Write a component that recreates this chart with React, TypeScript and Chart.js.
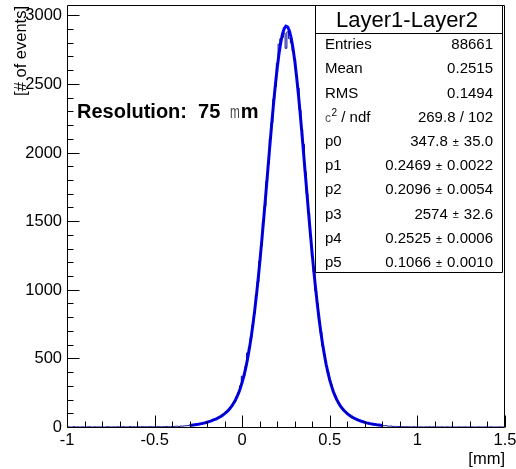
import React, { useEffect, useRef } from 'react';
import { Chart, registerables } from 'chart.js';

Chart.register(...registerables);

// ---------- data ----------
const histFirstCenter = -1.0;
const histBinWidth = 0.01;
const histCounts = [
  // -1.00 .. -0.61
  0, 1, 0, 0, 2, 0, 1, 0, 0, 1, 0, 0, 1, 2, 0, 0, 1, 0, 1, 0,
  1, 0, 0, 2, 1, 0, 1, 1, 0, 2, 1, 0, 2, 1, 1, 0, 3, 1, 2, 1,
  // -0.60 .. 0.99
  1, 2, 0, 3, 1, 2, 1, 3, 2, 1,
  2, 1, 3, 2, 1, 3, 2, 4, 3, 2,
  4, 3, 5, 6, 4, 7, 6, 8, 9, 10,
  12, 14, 13, 17, 19, 21, 25, 24, 30, 33,
  37, 40, 46, 47, 55, 60, 63, 74, 80, 91,
  99, 112, 118, 140, 150, 176, 190, 226, 247, 300,
  370, 371, 440, 540, 578, 650, 742, 829, 960, 1058,
  1210, 1320, 1490, 1610, 1790, 1920, 2100, 2220, 2390, 2480,
  2650, 2790, 2830, 2840, 2870, 2760, 2880, 2830, 2800, 2740,
  2680, 2560, 2470, 2310, 2170, 2060, 1860, 1700, 1560, 1390,
  1240, 1130, 990, 900, 770, 690, 590, 530, 445, 400,
  340, 305, 255, 232, 196, 178, 150, 140, 118, 112,
  95, 90, 75, 72, 60, 58, 50, 49, 40, 39,
  35, 28, 29, 22, 24, 18, 17, 14, 15, 11,
  11, 9, 10, 7, 6, 7, 4, 5, 3, 4,
  3, 2, 3, 1, 2, 2, 1, 0, 2, 1,
  // 1.00 .. 1.50
  1, 0, 1, 0, 0, 1, 0, 2, 0, 1, 0, 0, 1, 0, 1, 0, 0, 1, 0, 0,
  1, 0, 0, 0, 1, 0, 0, 1, 0, 0, 0, 1, 0, 0, 0, 1, 0, 0, 0, 1,
  0, 0, 1, 0, 0, 0, 0, 1, 0, 0, 0,
];

const fitStart = -0.3;
const fitStep = 0.01;
const fitValues = [
  11.1, 12.6, 14.2, 16.0, 18.0, 20.2, 22.7, 25.3, 28.2, 31.3,
  35, 39, 43, 48, 53, 58, 65, 71, 79, 88,
  97, 108, 121, 135, 152, 171, 193, 219, 250, 285,
  327, 374, 429, 492, 564, 644, 735, 835, 945, 1065,
  1194, 1332, 1476, 1625, 1778, 1932, 2084, 2231, 2371, 2501,
  2618, 2719, 2801, 2864, 2904, 2921, 2915, 2885, 2833, 2760,
  2668, 2558, 2434, 2298, 2153, 2002, 1849, 1695, 1543, 1396,
  1255, 1121, 997, 881, 776, 680, 595, 519, 452, 393,
  342, 298, 259, 227, 199, 175, 154, 137, 122, 109,
  97, 87, 78, 70, 64, 57, 52, 47, 42, 38,
  34, 30, 27.3, 24.5, 22, 19.6, 17.5, 15.5, 13.8, 12.2,
  10.8,
];

const xMin = -1;
const xMax = 1.5;
const yMin = 0;
const yMax = 3068;
const xTickValues = [-1, -0.5, 0, 0.5, 1, 1.5];
const xTickLabels = ['-1', '-0.5', '0', '0.5', '1', '1.5'];
const yTickValues = [0, 500, 1000, 1500, 2000, 2500, 3000];
const yTickLabels = ['0', '500', '1000', '1500', '2000', '2500', '3000'];
const xMinorStep = 0.1;
const yMinorStep = 100;
const xTitle = '[mm]';
const yTitle = '[# of events]';

const statsTitle = 'Layer1-Layer2';
const statLabels = ['Entries', 'Mean', 'RMS', 'c|2| / ndf', 'p0', 'p1', 'p2', 'p3', 'p4', 'p5'];
const statValues = [
  '88661', '0.2515', '0.1494', '269.8 / 102',
  '347.8 ± 35.0', '0.2469 ± 0.0022', '0.2096 ± 0.0054',
  '2574 ± 32.6', '0.2525 ± 0.0006', '0.1066 ± 0.0010',
];
const resolutionParts = ['Resolution:  75 ', 'm', 'm'];

// ---------- drawing ----------
const FONT = '"Liberation Sans", Arial, Helvetica, sans-serif';

const decorPlugin = {
  id: 'rootDecor',
  afterDatasetsDraw(chart: any) {
    const { ctx, chartArea: a, scales } = chart;
    const xs = scales.x;
    const ys = scales.y;
    ctx.save();
    const L = Math.round(a.left) + 0.5;
    const R = Math.round(a.right) - 0.5;
    const T = Math.round(a.top) - 0.5;
    const B = Math.round(a.bottom) + 0.5;

    // ticks
    ctx.strokeStyle = '#000';
    ctx.lineWidth = 1;
    ctx.beginPath();
    const nx = Math.round((xMax - xMin) / xMinorStep);
    for (let k = 0; k <= nx; k++) {
      const v = xMin + k * xMinorStep;
      const major = xTickValues.some((t) => Math.abs(t - v) < 1e-6);
      const px = Math.round(xs.getPixelForValue(v)) + 0.5;
      ctx.moveTo(px, B);
      ctx.lineTo(px, B - (major ? 12 : 6));
    }
    const ny = Math.floor((yMax - yMin) / yMinorStep);
    for (let k = 0; k <= ny; k++) {
      const v = yMin + k * yMinorStep;
      const major = yTickValues.some((t) => Math.abs(t - v) < 1e-6);
      const py = Math.round(ys.getPixelForValue(v)) + 0.5;
      ctx.moveTo(L, py);
      ctx.lineTo(L + (major ? 12 : 6), py);
    }
    ctx.stroke();

    // frame
    ctx.beginPath();
    ctx.rect(L, T, R - L, B - T);
    ctx.stroke();

    // tick labels
    ctx.fillStyle = '#000';
    ctx.font = `16.5px ${FONT}`;
    ctx.textAlign = 'center';
    ctx.textBaseline = 'alphabetic';
    xTickValues.forEach((v, i) => {
      ctx.fillText(xTickLabels[i], xs.getPixelForValue(v), 445);
    });
    ctx.textAlign = 'right';
    ctx.textBaseline = 'middle';
    yTickValues.forEach((v, i) => {
      ctx.fillText(yTickLabels[i], 62, ys.getPixelForValue(v) + 0.5);
    });

    // axis titles
    ctx.textAlign = 'right';
    ctx.textBaseline = 'alphabetic';
    ctx.fillText(xTitle, a.right, 464);
    ctx.save();
    ctx.translate(26, 6);
    ctx.rotate(-Math.PI / 2);
    ctx.textAlign = 'right';
    ctx.fillText(yTitle, 0, 0);
    ctx.restore();

    // resolution text
    ctx.textAlign = 'left';
    ctx.textBaseline = 'alphabetic';
    let cx = 77;
    const by = 118;
    ctx.font = `bold 20px ${FONT}`;
    ctx.fillText(resolutionParts[0], cx, by);
    cx += ctx.measureText(resolutionParts[0]).width + 4;
    ctx.save();
    ctx.font = `19px ${FONT}`;
    ctx.fillStyle = '#444';
    ctx.translate(cx, by);
    ctx.scale(0.62, 1);
    ctx.fillText(resolutionParts[1], 0, 0);
    const thinW = ctx.measureText(resolutionParts[1]).width * 0.62;
    ctx.restore();
    cx += thinW + 1;
    ctx.fillStyle = '#000';
    ctx.font = `bold 20px ${FONT}`;
    ctx.fillText(resolutionParts[2], cx, by);

    // stats box
    const bl = 315.5, bt = 5.5, br = 502.5, bb = 272.5;
    ctx.fillStyle = '#fff';
    ctx.fillRect(bl, bt, br - bl, bb - bt);
    ctx.strokeStyle = '#000';
    ctx.beginPath();
    ctx.rect(bl, bt, br - bl, bb - bt);
    ctx.moveTo(bl, 33.5);
    ctx.lineTo(br, 33.5);
    ctx.stroke();
    ctx.fillStyle = '#000';
    ctx.font = `22px ${FONT}`;
    ctx.textAlign = 'center';
    ctx.textBaseline = 'middle';
    ctx.fillText(statsTitle, (bl + br) / 2 - 2, 20.5);

    const rowY0 = 45;
    const rowH = 24.2;
    ctx.textBaseline = 'middle';
    statLabels.forEach((lab, i) => {
      const yy = rowY0 + i * rowH;
      ctx.textAlign = 'left';
      if (lab.includes('|')) {
        const parts = lab.split('|');
        let lx = 325;
        ctx.font = `12px ${FONT}`;
        ctx.fillStyle = '#555';
        ctx.fillText(parts[0], lx, yy + 1);
        lx += ctx.measureText(parts[0]).width + 0.5;
        ctx.font = `10px ${FONT}`;
        ctx.fillStyle = '#000';
        ctx.fillText(parts[1], lx, yy - 4);
        lx += ctx.measureText(parts[1]).width;
        ctx.font = `15px ${FONT}`;
        ctx.fillText(parts[2], lx, yy);
      } else {
        ctx.font = `15px ${FONT}`;
        ctx.fillStyle = '#000';
        ctx.fillText(lab, 325, yy);
      }
      const val = statValues[i];
      ctx.textAlign = 'right';
      ctx.fillStyle = '#000';
      let rx = 493;
      if (val.includes('±')) {
        const [left, right] = val.split('±').map((s) => s.trim());
        ctx.font = `15px ${FONT}`;
        ctx.fillText(right, rx, yy);
        rx -= ctx.measureText(right).width + 5;
        ctx.font = `11px ${FONT}`;
        ctx.fillText('±', rx, yy + 1);
        rx -= ctx.measureText('±').width + 5;
        ctx.font = `15px ${FONT}`;
        ctx.fillText(left, rx, yy);
      } else {
        ctx.font = `15px ${FONT}`;
        ctx.fillText(val, rx, yy);
      }
    });

    ctx.restore();
  },
};

export default function App() {
  const ref = useRef<HTMLCanvasElement | null>(null);
  useEffect(() => {
    document.body.style.margin = '0';
    const canvas = ref.current;
    if (!canvas) return;
    const histData = histCounts.map((v, i) => ({ x: histFirstCenter + i * histBinWidth, y: v }));
    const fitData = fitValues.map((v, i) => ({ x: fitStart + i * fitStep, y: v }));
    const chart = new Chart(canvas, {
      type: 'line',
      data: {
        datasets: [
          {
            data: histData,
            borderColor: '#000099',
            borderWidth: 1,
            pointRadius: 0,
            stepped: 'middle',
            fill: false,
          },
          {
            data: fitData,
            borderColor: '#0000ff',
            borderWidth: 3,
            pointRadius: 0,
            tension: 0,
            fill: false,
          },
        ],
      },
      options: {
        animation: false,
        responsive: false,
        maintainAspectRatio: false,
        devicePixelRatio: 1,
        events: [],
        layout: { padding: { left: 67, right: 11, top: 6, bottom: 42 } },
        plugins: { legend: { display: false }, tooltip: { enabled: false } },
        scales: {
          x: { type: 'linear', min: xMin, max: xMax, display: false },
          y: { type: 'linear', min: yMin, max: yMax, display: false },
        },
      },
      plugins: [decorPlugin],
    });
    return () => chart.destroy();
  }, []);
  return (
    <div style={{ width: 516, height: 469, background: '#fff' }}>
      <canvas ref={ref} width={516} height={469} style={{ display: 'block' }} />
    </div>
  );
}
